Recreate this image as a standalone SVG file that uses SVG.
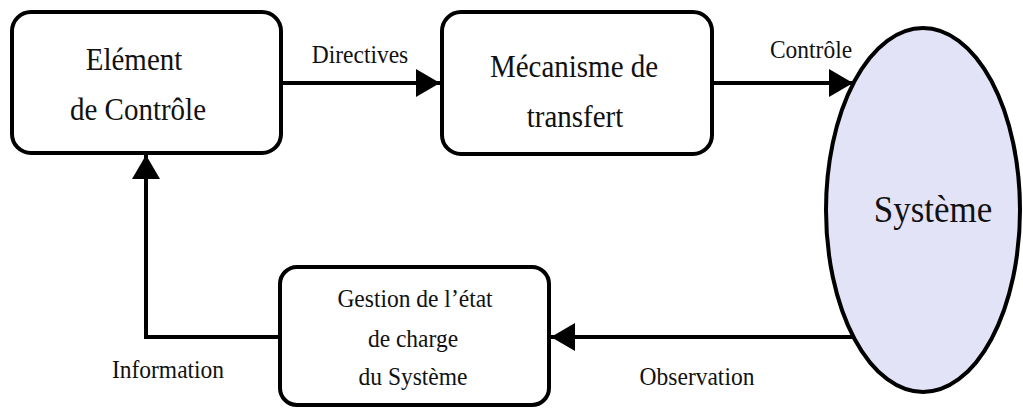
<svg xmlns="http://www.w3.org/2000/svg" width="1023" height="409" viewBox="0 0 1023 409">
  <style>
    .box { fill: #ffffff; stroke: #000; stroke-width: 4; }
    .sys { fill: #e3e3f7; stroke: #000; stroke-width: 4; }
    .wire { fill: none; stroke: #000; stroke-width: 4; }
    text { font-family: "Liberation Serif", "Times New Roman", serif; fill: #111; text-anchor: middle; }
    .big { font-size: 29px; }
    .lbl { font-size: 23.5px; }
    .huge { font-size: 35px; }
  </style>
  <defs>
    <marker id="arrow" viewBox="0 0 24 28" refX="24" refY="14" markerWidth="24" markerHeight="28" markerUnits="userSpaceOnUse" orient="auto">
      <path d="M0,0 L24,14 L0,28 Z" fill="#000"/>
    </marker>
  </defs>

  <rect width="1023" height="409" fill="#ffffff"/>

  <!-- connectors -->
  <g id="connectors">
    <line class="wire" x1="281" y1="83" x2="440" y2="83" marker-end="url(#arrow)"/>
    <line class="wire" x1="712" y1="83" x2="853" y2="83" marker-end="url(#arrow)"/>
    <line class="wire" x1="862" y1="337" x2="551" y2="337" marker-end="url(#arrow)"/>
    <polyline class="wire" points="280,337 146,337 146,155" marker-end="url(#arrow)"/>
    <text class="lbl" transform="translate(360,63) scale(1,1.1)">Directives</text>
    <text class="lbl" transform="translate(811,58) scale(1,1.1)">Contrôle</text>
    <text class="lbl" transform="translate(697,385) scale(1,1.1)">Observation</text>
    <text class="lbl" transform="translate(168,378) scale(1,1.1)">Information</text>
  </g>

  <!-- control element -->
  <g id="element-controle">
    <rect class="box" x="12" y="12" width="269" height="141" rx="19"/>
    <text class="big" transform="translate(134,70) scale(1,1.12)">Elément</text>
    <text class="big" transform="translate(138,120) scale(1,1.12)">de Contrôle</text>
  </g>

  <!-- transfer mechanism -->
  <g id="mecanisme-transfert">
    <rect class="box" x="442" y="12" width="270" height="142" rx="19"/>
    <text class="big" transform="translate(574,77) scale(1,1.12)">Mécanisme de</text>
    <text class="big" transform="translate(575,127) scale(1,1.12)">transfert</text>
  </g>

  <!-- system -->
  <g id="systeme">
    <ellipse class="sys" cx="923" cy="210" rx="97" ry="182"/>
    <text class="huge" transform="translate(933,222) scale(1,1.08)">Système</text>
  </g>

  <!-- state-of-charge management -->
  <g id="gestion-etat">
    <rect class="box" x="280" y="267" width="269" height="138" rx="17"/>
    <text class="lbl" transform="translate(415,307) scale(1,1.1)">Gestion de l’état</text>
    <text class="lbl" transform="translate(413,347) scale(1,1.1)">de charge</text>
    <text class="lbl" transform="translate(413,385) scale(1,1.1)">du Système</text>
  </g>
</svg>
